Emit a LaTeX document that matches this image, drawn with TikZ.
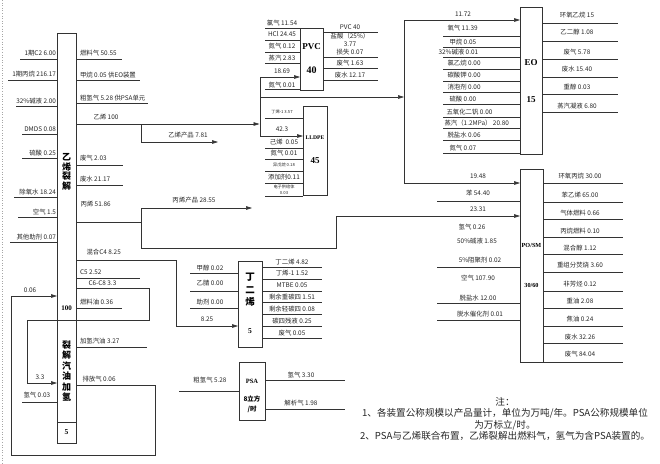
\documentclass[tikz,border=0pt]{standalone}
\usepackage{fontspec}
\setmainfont{Noto Sans CJK SC}
\newfontfamily\lat{Liberation Serif}
\usetikzlibrary{arrows.meta}
\begin{document}
\begin{tikzpicture}[x=1pt,y=-1pt,
  ln/.style={line width=0.55pt, draw=black!80},
  arr/.style={ln,-{Triangle[length=6pt,width=3.6pt]}},
  lb/.style={font=\fontsize{6.4}{7}\selectfont, inner sep=0.3pt, text=black!85},
  tiny/.style={font=\fontsize{4.2}{5}\selectfont, inner sep=0.3pt, text=black!85},
  bx/.style={draw=black!80, line width=0.6pt, fill=white, inner sep=0, anchor=north west},
  tt/.style={font=\bfseries\fontsize{9}{9.6}\selectfont, align=center, inner sep=0},
  lt/.style={font=\lat\bfseries\fontsize{9}{10}\selectfont, inner sep=0},
  note/.style={font=\fontsize{9.6}{11.6}\selectfont, align=center, inner sep=0, text=black!85}]
\useasboundingbox (0,0) rectangle (660,463);
\draw[black!35, dotted, line width=0.6pt] (2,0) -- (2,463);

% ---------- boxes ----------
\node[bx, minimum width=19pt, minimum height=410pt] (eth) at (57,33) {};
\node[bx, minimum width=23pt, minimum height=62pt] (pvc) at (300,28) {};
\node[bx, minimum width=24pt, minimum height=89pt] (lldpe) at (303,106) {};
\node[bx, minimum width=22pt, minimum height=147pt] (eo) at (520,7) {};
\node[bx, minimum width=23pt, minimum height=193pt] (posm) at (520,169) {};
\node[bx, minimum width=24pt, minimum height=86pt] (bd) at (238,261) {};
\node[bx, minimum width=26pt, minimum height=58pt] (psa) at (239,362) {};

% ---------- box titles ----------
\node[tt] (t1) at (66.5,172) {乙\\烯\\裂\\解};
\node[lt, font=\lat\bfseries\fontsize{7}{8}\selectfont] (t2) at (66.5,308) {100};
\node[tt, font=\bfseries\fontsize{9}{10.5}\selectfont] (t3) at (66.5,371) {裂\\解\\汽\\油\\加\\氢};
\node[lt, font=\lat\bfseries\fontsize{7.5}{8}\selectfont] (t4) at (66.5,432) {5};
\draw[ln] (57,422) -- (76,422);

\node[lt] (t5) at (311.5,47) {PVC};
\node[lt, font=\lat\bfseries\fontsize{10}{11}\selectfont] (t6) at (311.5,70) {40};
\node[lt, font=\lat\bfseries\fontsize{5.6}{6}\selectfont] (t7) at (315,138) {LLDPE};
\node[lt] (t8) at (315,161) {45};
\node[lt] (t9) at (531,63) {EO};
\node[lt] (t10) at (531,100) {15};
\node[lt, font=\lat\bfseries\fontsize{6.2}{7}\selectfont] (t11) at (531.5,245) {PO/SM};
\node[lt, font=\lat\bfseries\fontsize{6.2}{7}\selectfont] (t12) at (531.5,285) {30/60};
\node[tt, font=\bfseries\fontsize{9.5}{12.5}\selectfont] (t13) at (250,290) {丁\\二\\烯};
\node[lt, font=\lat\bfseries\fontsize{7.5}{8}\selectfont] (t14) at (250,331) {5};
\node[lt, font=\lat\bfseries\fontsize{6.5}{7}\selectfont] (t15) at (252,381) {PSA};
\node[tt, font=\bfseries\fontsize{6.5}{10}\selectfont] (t16) at (252,404) {8立方\\/时};

% ---------- ethylene cracker: left inputs ----------
\foreach \y/\xs/\ly/\t in {59/20/53/{1期C2 6.00},80/8/74/{1期丙烷 216.17},106/16/101/{32\%碱液 2.00},134/22/129/{DMDS 0.08},158/22/153/{硫酸 0.25},197/14/192/{除氧水 18.24},217/18/212/{空气 1.5},242/10/237/{其他助剂 0.07}}{
  \draw[ln] (\xs,\y) -- (57,\y);
  \node[lb, anchor=east] at (56.5,\ly) {\t};
}
% ---------- ethylene cracker: right outputs ----------
\foreach \y/\xe/\ly/\t in {59/122/53/{燃料气 50.55},80/140/75/{甲烷 0.05 供EO装置},103/148/98/{粗氢气 5.28 供PSA单元},165/123/158/{废气 2.03},185/123/179/{废水 21.17},278/140/272/{C5 2.52},308/122/302/{燃料油 0.36},347/147/341/{加氢汽油 3.27}}{
  \draw[ln] (76,\y) -- (\xe,\y);
  \node[lb, anchor=west] at (79.5,\ly) {\t};
}
\node[lb, anchor=west] (l_e) at (93,117) {乙烯 100};
\node[lb, anchor=west] (l_p) at (80,204) {丙烯 51.86};
\node[lb, anchor=west] (l_c4) at (86,252) {混合C4 8.25};
\node[lb, anchor=west] (l_c6) at (88,283) {C6-C8 3.3};
\node[lb, anchor=west] (l_pf) at (82,379) {排放气 0.06};
\node[lb] (l_006) at (30,290) {0.06};
\node[lb] (l_33) at (40,377) {3.3};
\node[lb, anchor=west] (l_h2) at (23,395) {氢气 0.03};
\draw[ln] (22,402) -- (57,402);

% ---------- ethylene distribution ----------
\draw[arr] (76,124) -- (259.5,124);
\draw[ln] (260,77) -- (260,136);
\draw[arr] (260,77) -- (300,77);
\draw[arr] (260,136) -- (303,136);
\draw[arr] (260,97) -- (404,97);
\draw[ln] (404,20) -- (404,183);
\draw[arr] (404,20) -- (520,20);
\draw[arr] (404,183) -- (520,183);
\draw[arr] (141,124) -- (141,142) -- (218,142);
\node[lb] (l_ep) at (188,135) {乙烯产品 7.81};
\node[lb] (l_1869) at (282,71) {18.69};
\node[lb] (l_423) at (282,129) {42.3};
\node[lb] (l_1172) at (463,14) {11.72};
\node[lb] (l_1948) at (478,176) {19.48};

% ---------- propylene ----------
\draw[ln] (76,222) -- (141,222);
\draw[ln] (141,208) -- (141,248);
\draw[arr] (141,208) -- (252,208);
\node[lb] (l_pp) at (194,200) {丙烯产品 28.55};
\draw[arr] (141,248) -- (336,248) -- (336,216) -- (520,216);
\node[lb] (l_2331) at (478,209) {23.31};

% ---------- C4 / C6-C8 / vent recycle ----------
\draw[arr] (76,260) -- (176,260) -- (176,326) -- (238,326);
\node[lb] (l_825) at (207,319) {8.25};
\draw[arr] (76,288) -- (149,288) -- (149,320) -- (27,320) -- (27,383) -- (57,383);
\draw[arr] (76,385) -- (155,385) -- (155,455) -- (11,455) -- (11,296) -- (57,296);

% ---------- PVC ----------
\foreach \y/\t in {23/{氯气 11.54},34/{HCl 24.45},46/{氮气 0.12},58/{蒸汽 2.83},85/{氮气 0.01}}
  \node[lb] at (282,\y) {\t};
\foreach \y in {28,40,52,63,89} \draw[ln] (265,\y) -- (300,\y);
\foreach \y/\t in {27/{PVC 40},36/{盐酸（25\%）},44/{3.77},52/{损失 0.07},63/{废气 1.63},75/{废水 12.17}}
  \node[lb] at (350,\y) {\t};
\foreach \y in {32,57,68,80} \draw[ln] (323,\y) -- (378,\y);

% ---------- LLDPE ----------
\node[tiny] at (282,112) {丁烯-1 3.57};
\node[lb] at (284,142) {己烯 \ 0.05};
\node[lb] at (284,153) {氮气 0.01};
\node[tiny] at (284,165) {异戊烷 0.18};
\node[lb] at (284,177) {添加剂0.11};
\node[tiny, align=center, font=\fontsize{4.2}{5.6}\selectfont] at (284,190) {电子供给体\\0.03};
\foreach \y in {118,148,159,171,183,196} \draw[ln] (265,\y) -- (303,\y);

% ---------- EO ----------
\foreach \y/\x/\t in {28/447/{氧气 11.39},42/449/{甲烷 0.05},52/438/{32\%碱液 0.01},63/447/{氯乙烷 0.00},75/447/{碳酸钾 0.00},87/447/{消泡剂 0.00},99/449/{硫酸 0.00},112/446/{五氧化二钒 0.00},123/444/{蒸汽（1.2MPa） 20.80},135/447/{脱盐水 0.06},148/449/{氮气 0.07}}
  \node[lb, anchor=west] at (\x,\y) {\t};
\foreach \y in {36,47,57,69,81,92,104,117,128,140,153} \draw[ln] (443,\y) -- (520,\y);
\foreach \y/\t in {15/{环氧乙烷 15},32/{乙二醇 1.08},52/{废气 5.78},69/{废水 15.40},87/{重醇 0.03},106/{蒸汽凝液 6.80}}
  \node[lb] at (577,\y) {\t};
\foreach \y in {23,41,59,77,94,112} \draw[ln] (542,\y) -- (618,\y);

% ---------- PO/SM ----------
\foreach \y/\x/\t in {193/478/{苯 54.40},227/472/{氢气 0.26},241/477/{50\%碱液 1.85},260/480/{5\%阻聚剂 0.02},278/478/{空气 107.90},298/478/{脱盐水 12.00},314/480/{脱水催化剂 0.01}}
  \node[lb] at (\x,\y) {\t};
\foreach \y in {201,267,303,320} \draw[ln] (437,\y) -- (520,\y);
\foreach \y/\t in {176/{环氧丙烷 30.00},195/{苯乙烯 65.00},213/{气体燃料 0.66},231/{丙烷燃料 0.10},248/{混合醇 1.12},265/{重组分焚烧 3.60},284/{非芳烃 0.12},301/{重油 2.08},319/{焦油 0.24},337/{废水 32.26},354/{废气 84.04}}
  \node[lb] at (580,\y) {\t};
\foreach \y in {183,202,219,237,254,272,291,308,326,343,362} \draw[ln] (543,\y) -- (623,\y);

% ---------- butadiene ----------
\foreach \y/\t in {268/{甲醇 0.02},283/{乙腈 0.00},302/{助剂 0.00}}
  \node[lb] at (210,\y) {\t};
\foreach \y in {273,291,308} \draw[ln] (190,\y) -- (238,\y);
\foreach \y/\t in {262/{丁二烯 4.82},273/{丁烯-1 1.52},285/{MTBE 0.05},297/{剩余重碳四 1.51},309/{剩余轻碳四 0.08},321/{碳四残液 0.25},333/{废气 0.05}}
  \node[lb] at (292,\y) {\t};
\foreach \y in {267,279,291,302,314,326,338} \draw[ln] (262,\y) -- (322,\y);

% ---------- PSA ----------
\node[lb] (l_psa_in) at (210,380) {粗氢气 5.28};
\draw[ln] (179,391) -- (239,391);
\node[lb] (l_psa_h) at (301,375) {氢气 3.30};
\node[lb] (l_psa_t) at (301,403) {解析气 1.98};
\draw[ln] (265,380) -- (345,380);
\draw[ln] (265,409) -- (345,409);

% ---------- notes ----------
\node[note] (notes) at (505,419) {注：\\1、各装置公称规模以产品量计，单位为万吨/年。PSA公称规模单位\\为万标立/时。\\2、PSA与乙烯联合布置，乙烯裂解出燃料气，氢气为含PSA装置的。};
\end{tikzpicture}
\end{document}
